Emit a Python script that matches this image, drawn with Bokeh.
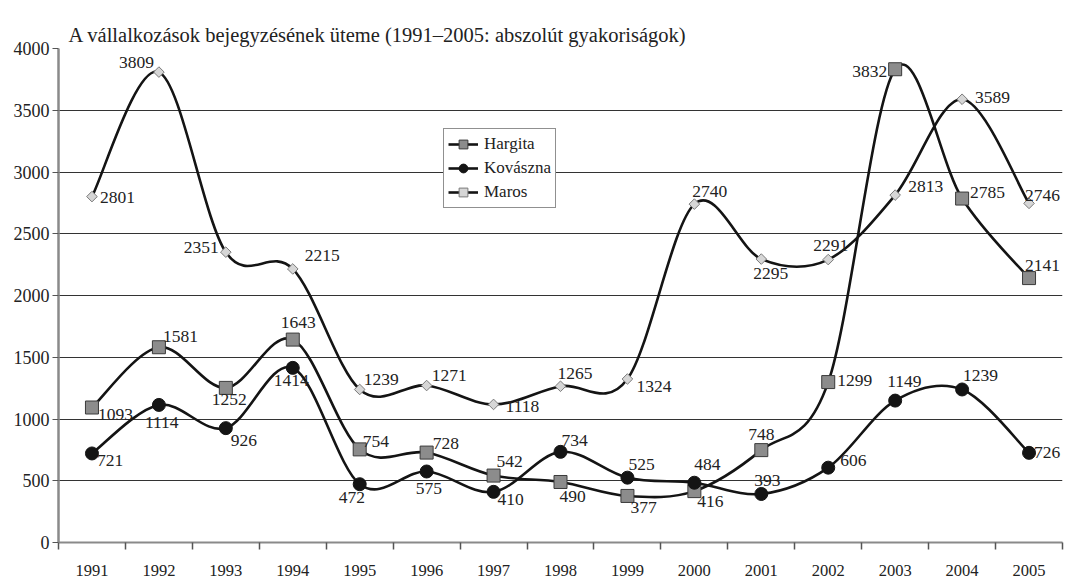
import numpy as np
from bokeh.plotting import figure
from bokeh.layouts import column
from bokeh.models import (Range1d, FixedTicker, Legend, LegendItem,
                          ColumnDataSource)
from bokeh.core.properties import value
from bokeh.embed import file_html
from bokeh.resources import INLINE

# ---------------- data ----------------
years = [str(y) for y in range(1991, 2006)]
hargita = [1093, 1581, 1252, 1643, 754, 728, 542, 490, 377, 416, 748, 1299, 3832, 2785, 2141]
kovaszna = [721, 1114, 926, 1414, 472, 575, 410, 734, 525, 484, 393, 606, 1149, 1239, 726]
maros = [2801, 3809, 2351, 2215, 1239, 1271, 1118, 1265, 1324, 2740, 2295, 2291, 2813, 3589, 2746]
y_ticks = [0, 500, 1000, 1500, 2000, 2500, 3000, 3500, 4000]
title_text = "A vállalkozások bejegyzésének üteme (1991–2005: abszolút gyakoriságok)"
series_names = ["Hargita", "Kovászna", "Maros"]

# ---------------- label placement (pixels, style only) ----------------
hargita_dx = [6, 4, -14, -12, 3, 6, 3, -1, 3, 3, -13, 9, -43, 8, -4]
hargita_dy = [7, -11, 12, -17, -8, -9, -14, 15, 12, 10, -16, -2, 2, -6, -13]
kovaszna_dx = [5, -14, 5, -19, -21, -11, 4, 1, 1, 0, -7, 12, -8, 1, 5]
kovaszna_dy = [7, 18, 12, 13, 13, 17, 8, -11, -13, -18, -13, -7, -19, -14, 0]
maros_dx = [8, -40, -42, 12, 4, 5, 12, -3, 9, -2, -8, -15, 13, 13, -4]
maros_dy = [1, -10, -5, -13, -10, -10, 2, -13, 8, -13, 14, -14, -9, -2, -8]

SERIF = "Liberation Serif"
TXT = "#222222"
n = len(years)
xs = list(range(n))

p = figure(width=1082, height=572,
           x_range=Range1d(-0.5, n - 0.5), y_range=Range1d(0, 4000),
           output_backend="svg", toolbar_location=None,
           min_border_left=58, min_border_right=20,
           min_border_top=42, min_border_bottom=33)
p.outline_line_color = None
p.background_fill_color = "white"

# title
p.title.text = title_text
p.title.text_font = SERIF
p.title.text_font_size = "20.5px"
p.title.text_font_style = "normal"
p.title.text_color = TXT
p.title.offset = 10
p.title.standoff = 6

# axes
p.yaxis.ticker = FixedTicker(ticks=y_ticks)
p.yaxis.axis_line_color = "#8a8a8a"
p.yaxis.axis_line_width = 2.5
p.yaxis.major_tick_out = 6
p.yaxis.major_tick_in = 0
p.yaxis.major_tick_line_color = "#555555"
p.yaxis.minor_tick_line_color = None
p.yaxis.major_label_standoff = 3
p.yaxis.major_label_text_font = SERIF
p.yaxis.major_label_text_font_size = "18px"
p.yaxis.major_label_text_color = TXT

p.xaxis.ticker = FixedTicker(ticks=xs, minor_ticks=[k - 0.5 for k in range(n + 1)])
p.xaxis.major_label_overrides = {i: years[i] for i in range(n)}
p.xaxis.axis_line_color = "#8a8a8a"
p.xaxis.axis_line_width = 2
p.xaxis.major_tick_out = 0
p.xaxis.major_tick_in = 0
p.xaxis.minor_tick_out = 7
p.xaxis.minor_tick_in = 0
p.xaxis.minor_tick_line_color = "#555555"
p.xaxis.minor_tick_line_width = 1.5
p.xaxis.major_label_standoff = 15
p.xaxis.major_label_text_font = SERIF
p.xaxis.major_label_text_font_size = "16.5px"
p.xaxis.major_label_text_color = TXT

p.xgrid.visible = False
p.ygrid.ticker = FixedTicker(ticks=y_ticks[1:])
p.ygrid.grid_line_color = "#333333"
p.ygrid.grid_line_width = 1


def smooth_source(vals):
    """Bezier control points (Catmull-Rom style smoothing) from the data."""
    d = dict(x0=[], y0=[], x1=[], y1=[], cx0=[], cy0=[], cx1=[], cy1=[])
    for i in range(n - 1):
        a = i - 1 if i > 0 else i
        b = i + 2 if i + 2 < n else i + 1
        d["x0"].append(xs[i]); d["y0"].append(vals[i])
        d["x1"].append(xs[i + 1]); d["y1"].append(vals[i + 1])
        d["cx0"].append(xs[i] + (xs[i + 1] - xs[a]) / 6)
        d["cy0"].append(vals[i] + (vals[i + 1] - vals[a]) / 6)
        d["cx1"].append(xs[i + 1] - (xs[b] - xs[i]) / 6)
        d["cy1"].append(vals[i + 1] - (vals[b] - vals[i]) / 6)
    return ColumnDataSource(d)


styles = {
    "Hargita": dict(marker="square", size=13, angle=0, fill_color="#8c8c8c",
                    line_color="#3a3a3a"),
    "Kovászna": dict(marker="circle", size=13, angle=0, fill_color="#141414",
                     line_color="#141414"),
    "Maros": dict(marker="square", size=7.5, angle=np.pi / 4, fill_color="#d6d6d6",
                  line_color="#7a7a7a"),
}
data = {"Hargita": hargita, "Kovászna": kovaszna, "Maros": maros}
offs = {"Hargita": (hargita_dx, hargita_dy), "Kovászna": (kovaszna_dx, kovaszna_dy),
        "Maros": (maros_dx, maros_dy)}

line_r = {}
for name in ["Maros", "Hargita", "Kovászna"]:
    src = smooth_source(data[name])
    line_r[name] = p.bezier(x0="x0", y0="y0", x1="x1", y1="y1", cx0="cx0", cy0="cy0",
                            cx1="cx1", cy1="cy1", source=src,
                            line_color="#141414", line_width=2.6)

mark_r = {}
for name in ["Maros", "Hargita", "Kovászna"]:
    st = styles[name]
    ps = ColumnDataSource(dict(x=xs, y=data[name]))
    mark_r[name] = p.scatter(x="x", y="y", source=ps, marker=st["marker"], size=st["size"],
                             angle=st["angle"], fill_color=st["fill_color"],
                             line_color=st["line_color"], line_width=1)

for name in series_names:
    dx, dy = offs[name]
    ls = ColumnDataSource(dict(x=xs, y=data[name], t=[str(v) for v in data[name]],
                               dx=dx, dy=dy))
    p.text(x="x", y="y", text="t", source=ls, x_offset="dx", y_offset="dy",
           text_align="left", text_baseline="middle",
           text_font=value(SERIF), text_font_size="17.5px", text_color=TXT)

legend = Legend(items=[LegendItem(label=nm, renderers=[line_r[nm], mark_r[nm]])
                       for nm in series_names],
                location=(385, 334), orientation="vertical",
                label_text_font=SERIF, label_text_font_size="17px",
                label_text_color=TXT,
                glyph_width=30, glyph_height=22, label_height=22,
                label_standoff=6, padding=4, spacing=2, margin=0,
                border_line_color="#222222", border_line_width=1,
                background_fill_color="white", background_fill_alpha=1)
p.add_layout(legend)

# thin horizontal rule above the chart (a tiny empty figure filled grey)
rule = figure(width=1069, height=2, output_backend="svg", toolbar_location=None,
              min_border=0, x_axis_location=None, y_axis_location=None,
              background_fill_color="#8a8a8a", border_fill_color="#8a8a8a",
              margin=(4, 0, 0, 13))
rule.outline_line_color = None
rule.grid.visible = False

layout = column(rule, p, spacing=0)

open("out.html", "w").write(file_html(layout, INLINE))
